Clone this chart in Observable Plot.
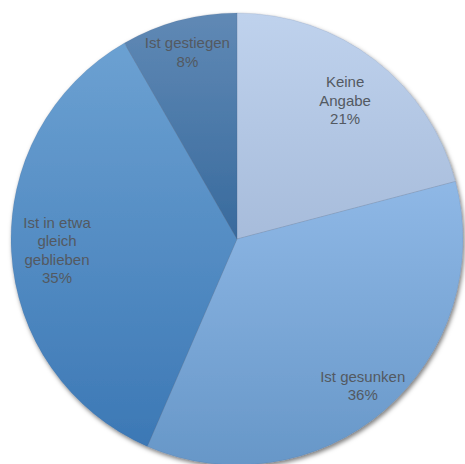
<!DOCTYPE html>
<html><head><meta charset="utf-8">
<script src="https://cdn.jsdelivr.net/npm/d3@7"></script>
<script src="https://cdn.jsdelivr.net/npm/@observablehq/plot@0.6"></script>
<style>body{margin:0;background:#fff;overflow:hidden}</style>
</head><body><div id="chart"></div>
<script>
// Data
const categories = ["Keine Angabe", "Ist gesunken", "Ist in etwa gleich geblieben", "Ist gestiegen"];
const labelLines = [["Keine", "Angabe"], ["Ist gesunken"], ["Ist in etwa", "gleich", "geblieben"], ["Ist gestiegen"]];
const shares = [20.9, 35.6, 35.2, 8.3];
const percentLabels = ["21%", "36%", "35%", "8%"];

// Styles / layout
const topColors = ["#bfd2ed", "#8fb8e6", "#6ca1d2", "#6089b5"];
const bottomColors = ["#a7bcdb", "#6797c8", "#3c78b5", "#386a9d"];
const labelRadii = [0.78, 0.85, 0.80, 0.86];

const data = categories.map((c, i) => ({
  category: c, share: shares[i], label: labelLines[i].join("\n") + "\n" + percentLabels[i], i
}));
const arcs = d3.pie().sort(null).value(d => d.share)(data);
const labels = arcs.map((a, i) => {
  const m = (a.startAngle + a.endAngle) / 2;
  return {x: labelRadii[i] * Math.sin(m), y: labelRadii[i] * Math.cos(m), text: a.data.label};
});

const pieMark = (index, scales) => {
  const cx = scales.x(0), cy = scales.y(0), r = scales.x(1) - scales.x(0);
  const g = d3.create("svg:g");
  const defs = g.append("defs");
  const f = defs.append("filter").attr("id", "pieShadow")
    .attr("x", "-10%").attr("y", "-10%").attr("width", "120%").attr("height", "120%");
  f.append("feDropShadow").attr("dx", 1.5).attr("dy", 2.5).attr("stdDeviation", 2)
    .attr("flood-color", "#000").attr("flood-opacity", 0.5);
  arcs.forEach((a, i) => {
    const lg = defs.append("linearGradient").attr("id", "grad" + i)
      .attr("x1", 0).attr("y1", 0).attr("x2", 0).attr("y2", 1);
    lg.append("stop").attr("offset", 0).attr("stop-color", topColors[i]);
    lg.append("stop").attr("offset", 1).attr("stop-color", bottomColors[i]);
  });
  const arc = d3.arc().innerRadius(0).outerRadius(r);
  const pg = g.append("g").attr("transform", `translate(${cx},${cy})`).attr("filter", "url(#pieShadow)");
  pg.selectAll("path").data(arcs).join("path")
    .attr("d", arc)
    .attr("fill", (d, i) => `url(#grad${i})`)
    .attr("stroke", "rgba(60,80,110,0.25)")
    .attr("stroke-width", 0.5);
  return g.node();
};

const chart = Plot.plot({
  width: 465,
  height: 464,
  margin: 0,
  x: {domain: [-1, 1], range: [11, 463], axis: null},
  y: {domain: [-1, 1], range: [465, 13], axis: null},
  style: {background: "white"},
  marks: [
    pieMark,
    Plot.text(labels, {
      x: "x", y: "y", text: "text",
      fontSize: 15, lineHeight: 1.23, lineAnchor: "middle", textAnchor: "middle",
      fill: "#535961", fontFamily: "Liberation Sans, Arial, Helvetica, sans-serif"
    })
  ]
});
document.getElementById("chart").appendChild(chart);
</script>
</body></html>
